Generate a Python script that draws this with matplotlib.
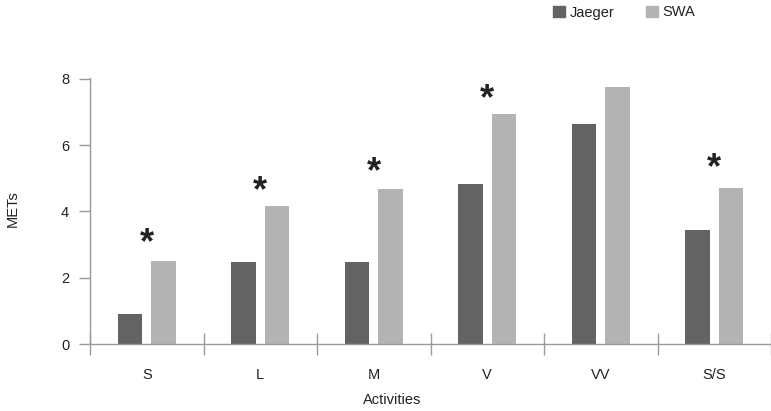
import numpy as np
import matplotlib
matplotlib.use("Agg")
import matplotlib.pyplot as plt
from matplotlib.patches import Patch

plt.rcParams['font.family'] = ['Liberation Sans', 'DejaVu Sans']

# data
categories = ['S', 'L', 'M', 'V', 'VV', 'S/S']
jaeger = [0.9, 2.48, 2.48, 4.82, 6.65, 3.44]
swa = [2.5, 4.16, 4.69, 6.93, 7.75, 4.7]
# height of the significance mark (None = not significant)
star_y = [3.25, 4.82, 5.37, 7.6, None, 5.49]

dark = '#636363'
light = '#b3b3b3'
axis_col = '#9a9a9a'
text_col = '#222222'

fig = plt.figure(figsize=(7.71, 4.11), dpi=100)
ax = fig.add_axes([90 / 771, 67 / 411, 681 / 771, 266 / 411])

x = np.arange(len(categories))
w = 0.218
off = 0.148
ax.bar(x - off, jaeger, w, color=dark)
ax.bar(x + off, swa, w, color=light)

for i, sy in enumerate(star_y):
    if sy is not None:
        ax.annotate('*', (x[i], sy), xytext=(0, -7), textcoords='offset pixels',
                    ha='center', va='center', fontsize=26, fontweight='bold',
                    color=text_col)

ax.set_xlim(-0.5, 5.44)
ax.set_ylim(0, 8.03)
ax.set_yticks([0, 2, 4, 6, 8])

ax.set_xticks(x)
ax.set_xticklabels(categories)
ax.set_xticks(np.arange(-0.5, 6, 1), minor=True)
ax.tick_params(axis='x', which='major', length=0, pad=17, labelsize=10.5,
               labelcolor=text_col)
ax.tick_params(axis='x', which='minor', direction='inout', length=16,
               color=axis_col, width=1)
ax.tick_params(axis='y', length=8, color=axis_col, width=1, pad=7,
               labelsize=10.5, labelcolor=text_col)

for s in ['top', 'right']:
    ax.spines[s].set_visible(False)
for s in ['left', 'bottom']:
    ax.spines[s].set_color(axis_col)
    ax.spines[s].set_linewidth(1)

ax.set_xlabel('Activities', fontsize=10.5, color=text_col)
ax.xaxis.set_label_coords((392 - 90) / 681, (344 - 393) / 266)
ax.set_ylabel('METs', fontsize=10.5, color=text_col)
ax.yaxis.set_label_coords((20 - 90) / 681, 0.51)

handles = [Patch(color=dark, label='Jaeger'), Patch(color=light, label='SWA')]
fig.legend(handles=handles, loc='center left', bbox_to_anchor=(546 / 771, 1 - 12.5 / 411),
           ncol=2, frameon=False, fontsize=10.5, borderpad=0, handlelength=0.82,
           handleheight=0.75, handletextpad=0.3, columnspacing=2.2,
           labelcolor=text_col)

fig.savefig('out.png', dpi=100)
